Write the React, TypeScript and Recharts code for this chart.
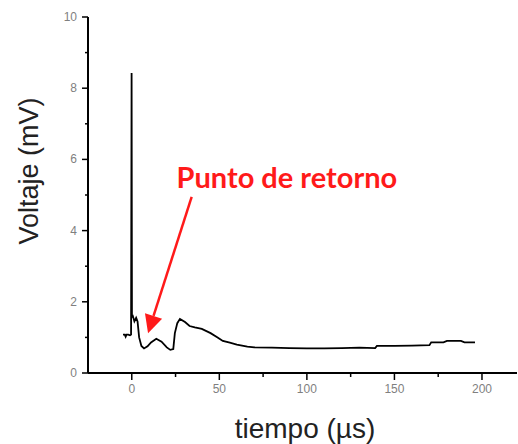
import { Label, Line, LineChart, ReferenceDot, ReferenceLine, XAxis, YAxis } from 'recharts'

// tiempo en µs, voltaje en mV
const tiempo = [
  -5, -4, -3.5, -3, -2, -1, -0.4, -0.1, 0.1, 0.6, 1.5, 2.5, 3.3, 4.2, 5.5, 7, 9, 11, 14, 17, 20, 22, 23.7, 24.6,
  26, 27.5, 30.4, 33, 36, 40, 45, 49, 52, 56, 60, 63, 66, 70, 80, 90, 100, 110, 120, 130, 139, 140, 150, 160, 170,
  171, 178, 180, 188, 190, 196,
]
const voltaje = [
  1.08, 1.08, 1.02, 1.08, 1.08, 1.06, 1.08, 8.43, 1.58, 1.6, 1.45, 1.55, 1.45, 1.0, 0.76, 0.69, 0.75, 0.86, 0.96,
  0.88, 0.72, 0.65, 0.67, 1.12, 1.4, 1.52, 1.43, 1.32, 1.28, 1.24, 1.12, 1.0, 0.9, 0.85, 0.8, 0.77, 0.74, 0.72, 0.71,
  0.7, 0.69, 0.69, 0.7, 0.71, 0.7, 0.76, 0.76, 0.77, 0.78, 0.86, 0.86, 0.9, 0.9, 0.86, 0.86,
]

const xTicks = [0, 25, 50, 75, 100, 125, 150, 175, 200]
const xMajor = [0, 50, 100, 150, 200]
const yTicks = [0, 1, 2, 3, 4, 5, 6, 7, 8, 9, 10]
const yMajor = [0, 2, 4, 6, 8, 10]

// flecha de la anotación: inicio -> punta
const flecha = [
  { x: 34.2, y: 4.95 },
  { x: 9.3, y: 1.12 },
]
const textoAnot = { x: 25.6, y: 5.2, label: 'Punto de retorno' }

const data = tiempo.map((t, i) => ({ t, v: voltaje[i] }))

const tickFont = 'Liberation Sans, Arial, sans-serif'

function XTick({ x, y, payload }: any) {
  const major = xMajor.includes(payload.value)
  return (
    <g>
      <line x1={x} y1={y} x2={x} y2={y + (major ? 7 : 4)} stroke="#000" strokeWidth={1.5} />
      {major && (
        <text x={x} y={y + 20} textAnchor="middle" fontSize={12} fill="#7f7f7f" fontFamily={tickFont}>
          {payload.value}
        </text>
      )}
    </g>
  )
}

function YTick({ x, y, payload }: any) {
  const major = yMajor.includes(payload.value)
  return (
    <g>
      <line x1={x} y1={y} x2={x - (major ? 6 : 3)} y2={y} stroke="#000" strokeWidth={1.5} />
      {major && (
        <text x={x - 11} y={y + 4} textAnchor="end" fontSize={12} fill="#7f7f7f" fontFamily={tickFont}>
          {payload.value}
        </text>
      )}
    </g>
  )
}

function Arrow(props: any) {
  const { x1, y1, x2, y2 } = props
  const ang = Math.atan2(y2 - y1, x2 - x1)
  const L = 18
  const W = 9
  const bx = x2 - L * Math.cos(ang)
  const by = y2 - L * Math.sin(ang)
  const px = -Math.sin(ang) * W
  const py = Math.cos(ang) * W
  return (
    <g>
      <line x1={x1} y1={y1} x2={bx} y2={by} stroke="#ff1a1a" strokeWidth={2.5} />
      <polygon points={`${x2},${y2} ${bx + px},${by + py} ${bx - px},${by - py}`} fill="#ff1a1a" />
    </g>
  )
}

export default function App() {
  return (
    <div style={{ position: 'absolute', left: 0, top: 0, background: '#fff' }}>
      <LineChart width={518} height={444} data={data} margin={{ top: 17, right: 1, bottom: 0, left: 0 }}>
        <XAxis
          dataKey="t"
          type="number"
          domain={[-25, 220]}
          ticks={xTicks}
          interval={0}
          height={71}
          tickSize={0}
          tickMargin={0}
          tickLine={false}
          tick={<XTick />}
          axisLine={{ stroke: '#000', strokeWidth: 2 }}
          allowDataOverflow
        >
          <Label
            content={() => (
              <text x={305} y={438} textAnchor="middle" fontSize={28} fill="#222" fontFamily={tickFont}>
                tiempo (µs)
              </text>
            )}
          />
        </XAxis>
        <YAxis
          type="number"
          domain={[0, 10]}
          ticks={yTicks}
          interval={0}
          width={88}
          tickSize={0}
          tickMargin={0}
          tickLine={false}
          tick={<YTick />}
          axisLine={{ stroke: '#000', strokeWidth: 2 }}
          allowDataOverflow
        >
          <Label
            content={() => (
              <text
                x={38}
                y={171}
                textAnchor="middle"
                fontSize={27}
                fill="#222"
                fontFamily={tickFont}
                transform="rotate(-90 38 171)"
              >
                Voltaje (mV)
              </text>
            )}
          />
        </YAxis>
        <Line
          type="linear"
          dataKey="v"
          stroke="#000"
          strokeWidth={1.8}
          dot={false}
          isAnimationActive={false}
        />
        <ReferenceLine segment={flecha} shape={<Arrow />} />
        <ReferenceDot
          x={textoAnot.x}
          y={textoAnot.y}
          r={0}
          shape={(p: any) => (
            <text x={p.cx} y={p.cy} fontSize={29} fontWeight={700} fill="#ff1a1a" fontFamily="Lato, sans-serif">
              {textoAnot.label}
            </text>
          )}
        />
      </LineChart>
    </div>
  )
}
